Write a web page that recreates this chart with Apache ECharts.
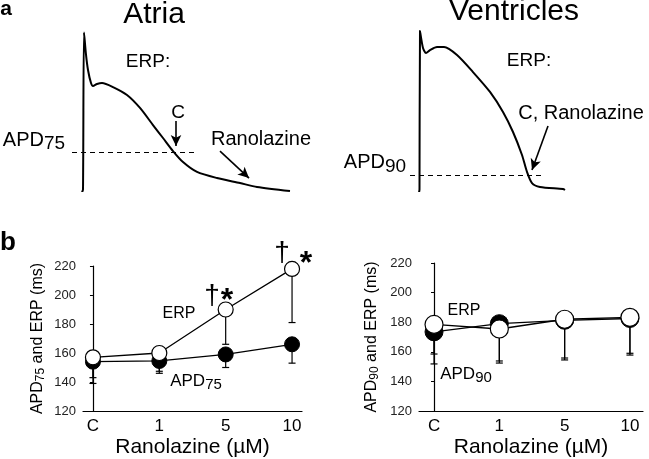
<!DOCTYPE html>
<html>
<head>
<meta charset="utf-8">
<script src="https://cdn.jsdelivr.net/npm/echarts@6/dist/echarts.min.js"></script>
<style>
html,body{margin:0;padding:0;background:#fff;}
#chart{width:649px;height:459px;}
</style>
</head>
<body>
<div id="chart"></div>
<script>
// ---------- data ----------
// panel a: action potential traces (time ms, membrane potential mV)
var atrialTime    = [-2, 0, 2, 6, 10, 16, 20, 28, 38, 60, 88, 114, 140, 160, 180, 200, 228, 268, 314, 348, 414];
var atrialVolt    = [-86, -84, 29, 13, 2, -7.4, -9.5, -8.1, -7.4, -10.3, -16, -25.3, -37.6, -46.9, -56.3, -64.2, -71.3, -75.7, -79.3, -82.1, -85];
var ventTime      = [0, 1, 2, 8, 14, 22, 36, 50, 76, 108, 142, 168, 188, 206, 216, 226, 242, 288, 292];
var ventVolt      = [-86, -84, 30, 17.8, 14.2, 16.3, 18.5, 18.5, 12.75, 0.5, -13.8, -28.2, -42.6, -59.1, -71.3, -79.3, -82.1, -83.6, -84.3];
var apd75Level = -57;
var apd90Level = -73.5;

// panel b
var categories   = ['C', '1', '5', '10'];
var yTicks       = [120, 140, 160, 180, 200, 220];
var atriaERP     = [157, 160, 190, 218];
var atriaERPLow  = [143, 147.4, 166, 181];
var atriaAPD     = [154, 154.5, 159, 166];
var atriaAPDLow  = [139, 146, 150, 153];
var ventERP      = [178.5, 175.4, 182, 183.3];
var ventERPLow   = [158.5, 153.8, 155.8, 159];
var ventAPD      = [173.5, 179, 181.3, 182.5];
var ventAPDLow   = [151.8, 152.4, 154.5, 157.8];

// ---------- helpers ----------
var FONT = '"Liberation Sans", Arial, sans-serif';
function pairs(xs, ys) { return xs.map(function (x, i) { return [x, ys[i]]; }); }
function idxPairs(ys) { return ys.map(function (y, i) { return [i, y]; }); }
function errPairs(ys, lows) { return ys.map(function (y, i) { return [i, y, lows[i]]; }); }

function errorRender(params, api) {
  var x = api.value(0), y = api.value(1), lo = api.value(2);
  var p1 = api.coord([x, y]);
  var p2 = api.coord([x, lo]);
  var cw = 3.5;
  return {
    type: 'group',
    children: [
      { type: 'line', shape: { x1: p1[0], y1: p1[1], x2: p2[0], y2: p2[1] }, style: { stroke: '#000', lineWidth: 1.2 } },
      { type: 'line', shape: { x1: p2[0] - cw, y1: p2[1], x2: p2[0] + cw, y2: p2[1] }, style: { stroke: '#000', lineWidth: 1.2 } }
    ]
  };
}

function T(text, x, y, size, extra) {
  var st = { text: text, fill: '#000', font: (extra && extra.bold ? 'bold ' : '') + size + 'px ' + FONT,
             textAlign: 'center', textVerticalAlign: 'middle', align: 'center', verticalAlign: 'middle' };
  if (extra && extra.rich) st.rich = extra.rich;
  if (extra && extra.align) { st.textAlign = extra.align; st.align = extra.align; }
  return { type: 'text', x: x, y: y, z: 100, style: st };
}

function subRich(size, subSize, drop) {
  return {
    m: { fontSize: size, fontFamily: FONT, lineHeight: size + 2, verticalAlign: 'top', color: '#000' },
    s: { fontSize: subSize, fontFamily: FONT, lineHeight: size + 2, verticalAlign: 'top', padding: [drop, 0, 0, 0], color: '#000' }
  };
}

function traceAxes(gi, xmin, xmax) {
  return {
    x: { type: 'value', gridIndex: gi, min: xmin, max: xmax, show: false },
    y: { type: 'value', gridIndex: gi, min: -85, max: 30, show: false }
  };
}

function bottomX(gi, xmin, xmax) {
  return {
    type: 'value', gridIndex: gi, min: xmin, max: xmax,
    splitLine: { show: false },
    axisLine: { show: true, onZero: false, lineStyle: { color: '#000', width: 1.2 } },
    axisTick: { show: false },
    axisLabel: { show: true, customValues: [0, 1, 2, 3], fontSize: 17, fontFamily: FONT, color: '#000', margin: 7,
                 formatter: function (v) { return categories[Math.round(v)]; } },
    name: 'Ranolazine (\u00b5M)', nameLocation: 'middle', nameGap: 26,
    nameTextStyle: { fontSize: 21, fontFamily: FONT, color: '#000' }
  };
}
function bottomY(gi, subTxt, gap) {
  return {
    type: 'value', gridIndex: gi, min: yTicks[0], max: yTicks[yTicks.length - 1], interval: 20,
    splitLine: { show: false },
    axisLine: { show: true, lineStyle: { color: '#000', width: 1.2 } },
    axisTick: { show: true, length: 3, lineStyle: { color: '#000' } },
    axisLabel: { fontSize: 13, fontFamily: FONT, color: '#222', margin: 7 },
    name: '{m|APD}{s|' + subTxt + '}{m| and ERP (ms)}', nameLocation: 'middle', nameGap: gap, nameRotate: 90,
    nameTextStyle: { rich: subRich(16, 12, 5) }
  };
}

var a0 = traceAxes(0, -46, 474);
var a1 = traceAxes(1, -38, 362);

var arrowLine = { color: '#000', width: 1.6, type: 'solid' };

var option = {
  backgroundColor: '#fff',
  animation: false,
  grid: [
    { left: 60, top: 31, width: 260, height: 160 },
    { left: 400, top: 31, width: 200, height: 160 },
    { left: 83, top: 266, width: 219, height: 146 },
    { left: 419, top: 263, width: 224, height: 148 }
  ],
  xAxis: [a0.x, a1.x, bottomX(2, -0.15, 3.15), bottomX(3, -0.23, 3.2)],
  yAxis: [a0.y, a1.y, bottomY(2, '75', 35), bottomY(3, '90', 37)],
  series: [
    {
      type: 'line', xAxisIndex: 0, yAxisIndex: 0, data: pairs(atrialTime, atrialVolt),
      showSymbol: false, smooth: 0.25,
      lineStyle: { color: '#000', width: 2, join: 'round' },
      markLine: {
        silent: true, symbol: ['none', 'none'], label: { show: false },
        data: [
          [{ coord: [-22, apd75Level], lineStyle: { color: '#000', width: 1, type: [5, 4] } }, { coord: [228, apd75Level] }],
          [{ coord: [186, -34.7], lineStyle: arrowLine }, { coord: [186, -52.7], symbol: 'arrow', symbolSize: [8, 11] }],
          [{ coord: [274, -56.3], lineStyle: arrowLine }, { coord: [332, -75.7], symbol: 'arrow', symbolSize: [8, 11] }]
        ]
      }
    },
    {
      type: 'line', xAxisIndex: 1, yAxisIndex: 1, data: pairs(ventTime, ventVolt),
      showSymbol: false, smooth: 0.25,
      lineStyle: { color: '#000', width: 2, join: 'round' },
      markLine: {
        silent: true, symbol: ['none', 'none'], label: { show: false },
        data: [
          [{ coord: [-18, apd90Level], lineStyle: { color: '#000', width: 1, type: [5, 4] } }, { coord: [250, apd90Level] }],
          [{ coord: [258, -38.3], lineStyle: arrowLine }, { coord: [226, -69.9], symbol: 'arrow', symbolSize: [8, 11] }]
        ]
      }
    },
    // atria error bars
    { type: 'custom', xAxisIndex: 2, yAxisIndex: 2, data: errPairs(atriaAPD, atriaAPDLow), renderItem: errorRender, z: 1 },
    { type: 'custom', xAxisIndex: 2, yAxisIndex: 2, data: errPairs(atriaERP, atriaERPLow), renderItem: errorRender, z: 1 },
    {
      type: 'line', xAxisIndex: 2, yAxisIndex: 2, data: idxPairs(atriaAPD), z: 3,
      symbol: 'circle', symbolSize: 15, lineStyle: { color: '#000', width: 1.3 },
      itemStyle: { color: '#000', borderColor: '#000', borderWidth: 1 }
    },
    {
      type: 'line', xAxisIndex: 2, yAxisIndex: 2, data: idxPairs(atriaERP), z: 4,
      symbol: 'circle', symbolSize: 15, lineStyle: { color: '#000', width: 1.3 },
      itemStyle: { color: '#fff', borderColor: '#000', borderWidth: 1.2 }
    },
    // ventricle error bars
    { type: 'custom', xAxisIndex: 3, yAxisIndex: 3, data: errPairs(ventAPD, ventAPDLow), renderItem: errorRender, z: 1 },
    { type: 'custom', xAxisIndex: 3, yAxisIndex: 3, data: errPairs(ventERP, ventERPLow), renderItem: errorRender, z: 1 },
    {
      type: 'line', xAxisIndex: 3, yAxisIndex: 3, data: idxPairs(ventAPD), z: 3,
      symbol: 'circle', symbolSize: 18, lineStyle: { color: '#000', width: 1.3 },
      itemStyle: { color: '#000', borderColor: '#000', borderWidth: 1 }
    },
    {
      type: 'line', xAxisIndex: 3, yAxisIndex: 3, data: idxPairs(ventERP), z: 4,
      symbol: 'circle', symbolSize: 18, lineStyle: { color: '#000', width: 1.3 },
      itemStyle: { color: '#fff', borderColor: '#000', borderWidth: 1.2 }
    }
  ],
  graphic: [
    T('a', 6, 9, 21, { bold: true }),
    T('Atria', 154, 15, 30),
    T('Ventricles', 514, 12, 30),
    T('ERP:', 148, 62, 19),
    T('C', 178, 113, 19),
    T('Ranolazine', 261, 139, 20),
    T('{m|APD}{s|75}', 34, 141, 20, { rich: subRich(20, 19, 4) }),
    T('ERP:', 529, 61, 19),
    T('C, Ranolazine', 581, 113, 20),
    T('{m|APD}{s|90}', 375, 163, 20, { rich: subRich(20, 19, 5) }),
    T('b', 8, 243, 26, { bold: true }),
    T('ERP', 179, 314, 16),
    T('{m|APD}{s|75}', 196, 382, 17, { rich: subRich(17, 15, 5) }),
    T('\u2020', 212, 296, 28),
    T('*', 227, 301, 32, { bold: true }),
    T('\u2020', 282, 253, 28),
    T('*', 306, 264, 32, { bold: true }),
    T('ERP', 464, 311, 16),
    T('{m|APD}{s|90}', 466, 375, 17, { rich: subRich(17, 15, 5) })
  ]
};

var chart = echarts.init(document.getElementById('chart'), null, { renderer: 'canvas' });
chart.setOption(option);
</script>
</body>
</html>
